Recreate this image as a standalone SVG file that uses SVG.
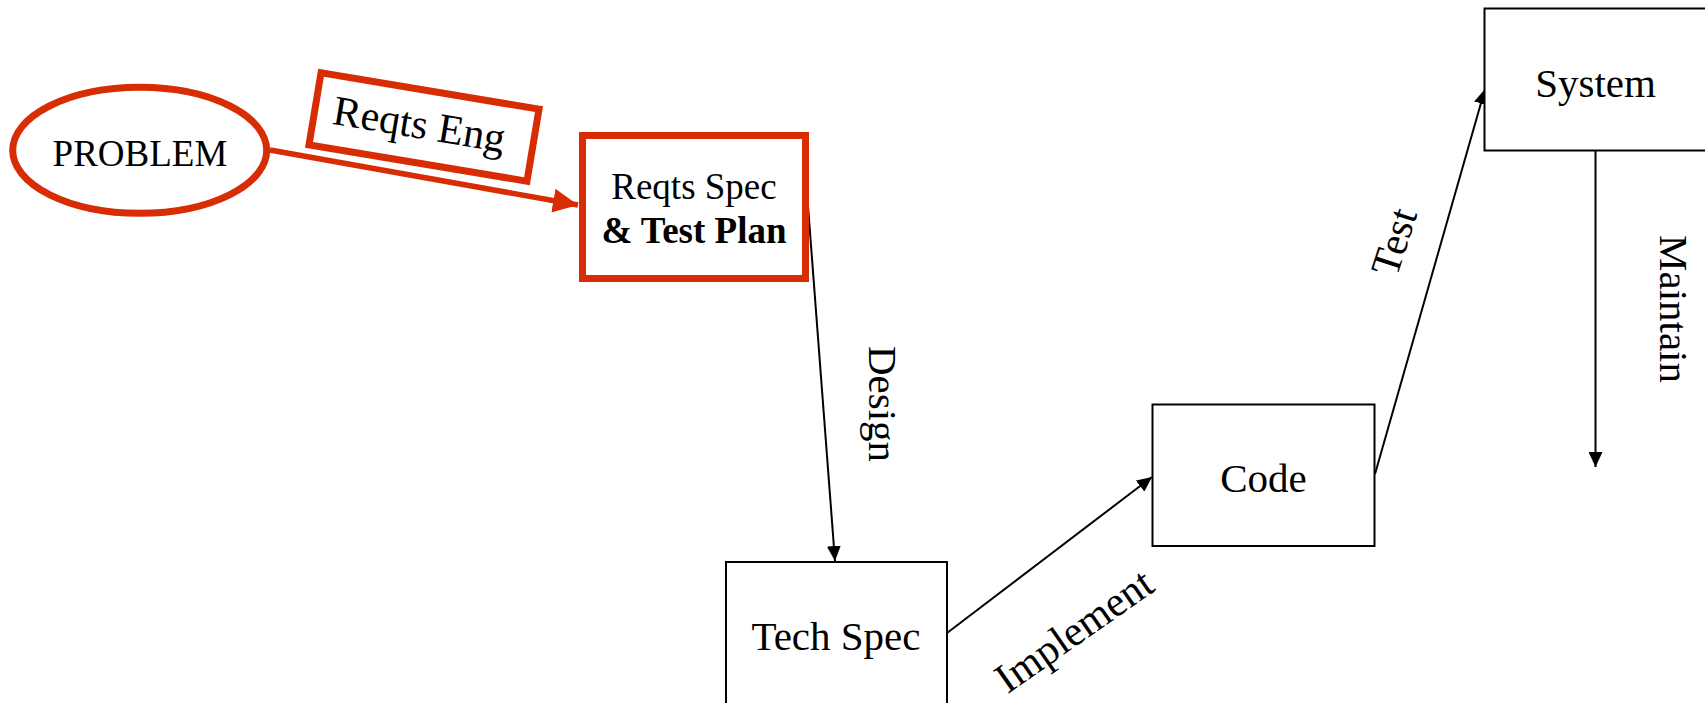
<svg xmlns="http://www.w3.org/2000/svg" width="1705" height="703" viewBox="0 0 1705 703">
  <style>
    .lbl { font-family: "Liberation Serif", "Times New Roman", serif; fill: #000; }
    .red { fill: #fff; stroke: #d82c04; stroke-width: 7; }
    .box { fill: #fff; stroke: #000; stroke-width: 2; }
    .flow { fill: none; stroke: #000; stroke-width: 2; }
  </style>
  <defs>
    <marker id="arrowBlack" markerUnits="userSpaceOnUse" markerWidth="16" markerHeight="14" refX="15" refY="7" orient="auto">
      <path d="M0,0 L15,7 L0,14 z" fill="#000"/>
    </marker>
    <marker id="arrowRed" markerUnits="userSpaceOnUse" markerWidth="26" markerHeight="24" refX="25" refY="12" orient="auto">
      <path d="M0,0 L25,12 L0,24 z" fill="#d82c04"/>
    </marker>
  </defs>

  <rect width="1705" height="703" fill="#fff"/>

  <!-- connectors -->
  <g id="connectors">
    <line x1="270" y1="150" x2="578" y2="205" stroke="#d82c04" stroke-width="5.5" marker-end="url(#arrowRed)"/>
    <line class="flow" x1="808" y1="206" x2="835" y2="561" marker-end="url(#arrowBlack)"/>
    <line class="flow" x1="947" y1="633" x2="1152" y2="477" marker-end="url(#arrowBlack)"/>
    <line class="flow" x1="1375" y1="474" x2="1485" y2="89" marker-end="url(#arrowBlack)"/>
    <line class="flow" x1="1595.5" y1="151" x2="1595.5" y2="467" marker-end="url(#arrowBlack)"/>

    <text class="lbl" font-size="41" text-anchor="middle" transform="translate(869 404) rotate(90)">Design</text>
    <text class="lbl" font-size="42" text-anchor="middle" transform="translate(1082 642) rotate(-35)">Implement</text>
    <text class="lbl" font-size="41" text-anchor="middle" transform="translate(1407 246) rotate(-72)">Test</text>
    <text class="lbl" font-size="41" text-anchor="middle" transform="translate(1660 309) rotate(90)">Maintain</text>
  </g>

  <!-- Reqts Eng label box -->
  <g id="reqts-eng" transform="translate(424 127) rotate(9.5)">
    <rect class="red" x="-110.5" y="-36.5" width="221" height="73"/>
    <text class="lbl" font-size="42" text-anchor="middle" x="-5" y="12">Reqts Eng</text>
  </g>

  <!-- nodes -->
  <g id="problem">
    <ellipse class="red" cx="139.7" cy="150.3" rx="127" ry="63"/>
    <text class="lbl" font-size="37" text-anchor="middle" x="140" y="165.5">PROBLEM</text>
  </g>

  <g id="reqts-spec">
    <rect class="red" x="582.5" y="135.5" width="223" height="143"/>
    <text class="lbl" font-size="37" text-anchor="middle" x="694" y="199">Reqts Spec</text>
    <text class="lbl" font-size="37" font-weight="bold" text-anchor="middle" x="694" y="243">&amp; Test Plan</text>
  </g>

  <g id="tech-spec">
    <rect class="box" x="726" y="562" width="221" height="160"/>
    <text class="lbl" font-size="41" text-anchor="middle" x="836" y="650">Tech Spec</text>
  </g>

  <g id="code">
    <rect class="box" x="1152.5" y="404.5" width="222" height="141.5"/>
    <text class="lbl" font-size="41" text-anchor="middle" x="1263.5" y="491.5">Code</text>
  </g>

  <g id="system">
    <rect class="box" x="1484.5" y="8.5" width="223" height="142"/>
    <text class="lbl" font-size="41" text-anchor="middle" x="1595.5" y="97">System</text>
  </g>
</svg>
